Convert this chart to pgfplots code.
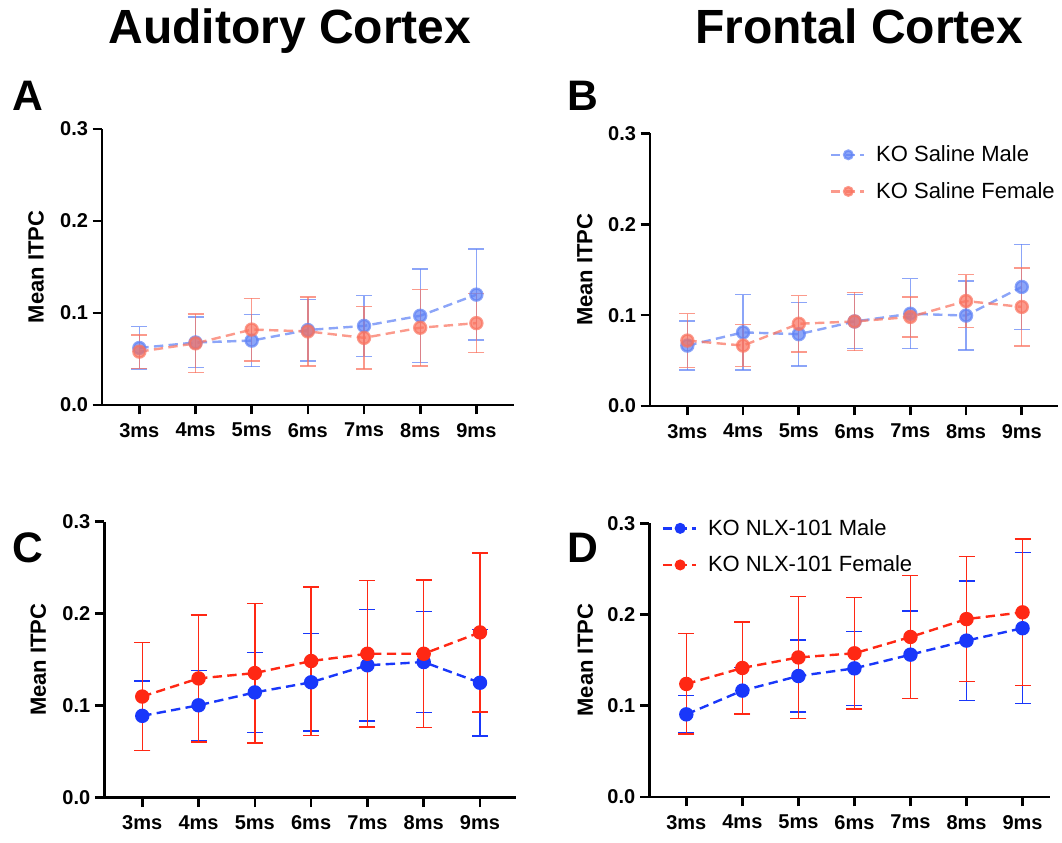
\documentclass[border=0pt]{standalone}
\usepackage{pgfplots}
\pgfplotsset{compat=1.18}
\usepackage{fontspec}
\setmainfont{Liberation Sans}

\definecolor{lblue}{RGB}{95,130,245}
\definecolor{lred}{RGB}{250,115,95}
\definecolor{dblue}{RGB}{25,55,250}
\definecolor{dred}{RGB}{255,40,20}

\pgfplotsset{
  panel/.style={
    scale only axis, clip=false,
    axis lines=left,
    x axis line style={-}, y axis line style={-},
    axis line style={line width=2.2pt, black},
    ymin=0, ymax=0.3, ytick={0,0.1,0.2,0.3},
    yticklabel style={/pgf/number format/fixed, /pgf/number format/fixed zerofill, /pgf/number format/precision=1},
    /pgf/number format/assume math mode=true,
    xtick={0,...,6}, xticklabels={3ms,4ms,5ms,6ms,7ms,8ms,9ms},
    xticklabel style={yshift=-3pt},
    tick align=outside, major tick length=7pt,
    major tick style={line width=2pt, black},
    tick label style={font=\bfseries\fontsize{15}{17}\selectfont},
    ylabel={Mean ITPC},
    ylabel style={font=\bfseries\fontsize{16.5}{18}\selectfont,
      at={(axis description cs:-0.16,0.5)}, anchor=center},
    legend style={draw=none, fill=none, font=\fontsize{16.5}{18}\selectfont,
      row sep=10pt, anchor=north west, inner sep=0pt,
      nodes={inner xsep=8pt}},
    legend cell align=left,
    legend image code/.code={\draw[mark repeat=2, mark phase=2, mark size=3.2pt, #1]
      plot coordinates {(0pt,0pt) (13pt,0pt) (25pt,0pt)};},
  },
  ser/.style={color=#1, dashed, dash pattern=on 7pt off 4pt, line width=1.8pt,
    mark=*, mark size=4.5pt, mark options={solid, fill=#1},
    error bars/y dir=both, error bars/y explicit,
    error bars/error bar style={solid, line width=1pt},
    error bars/error mark options={solid, rotate=90, mark size=6pt, line width=1pt}},
  lser/.style={opacity=0.72, ser=#1},
}

\begin{document}
\begin{tikzpicture}
\useasboundingbox (0,0) rectangle (796.5pt,-631.5pt);

\node[anchor=base, font=\bfseries\fontsize{36}{40}\selectfont] at (217.5pt,-32.5pt) {Auditory Cortex};
\node[anchor=base, font=\bfseries\fontsize{36}{40}\selectfont] at (644.3pt,-32.5pt) {Frontal Cortex};
\node[anchor=base, font=\bfseries\fontsize{32}{36}\selectfont] at (21pt,-82.5pt) {A};
\node[anchor=base, font=\bfseries\fontsize{32}{36}\selectfont] at (437pt,-82.5pt) {B};
\node[anchor=base, font=\bfseries\fontsize{32}{36}\selectfont] at (21pt,-422pt) {C};
\node[anchor=base, font=\bfseries\fontsize{32}{36}\selectfont] at (437pt,-422pt) {D};

% A: auditory, saline
\begin{axis}[panel, at={(76.5pt,-303.75pt)}, anchor=south west,
  width=309pt, height=207pt, xmin=-0.665, xmax=6.67]
\addplot[lser=lblue] coordinates {
  (0,0.062) +- (0,0.023)
  (1,0.068) +- (0,0.0275)
  (2,0.070) +- (0,0.0285)
  (3,0.0815) +- (0,0.0335)
  (4,0.086) +- (0,0.033)
  (5,0.097) +- (0,0.051)
  (6,0.120) +- (0,0.0495)
};
\addplot[lser=lred] coordinates {
  (0,0.058) +- (0,0.018)
  (1,0.067) +- (0,0.032)
  (2,0.082) +- (0,0.034)
  (3,0.080) +- (0,0.0375)
  (4,0.073) +- (0,0.034)
  (5,0.084) +- (0,0.0415)
  (6,0.089) +- (0,0.032)
};
\end{axis}

% B: frontal, saline
\begin{axis}[panel, at={(487.5pt,-304.5pt)}, anchor=south west,
  width=306pt, height=204.5pt, xmin=-0.67, xmax=6.65,
  legend style={at={(axis description cs:0.44,0.965)}}]
\addplot[lser=lblue] coordinates {
  (0,0.0665) +- (0,0.027)
  (1,0.081) +- (0,0.0415)
  (2,0.079) +- (0,0.035)
  (3,0.093) +- (0,0.030)
  (4,0.1015) +- (0,0.0385)
  (5,0.0995) +- (0,0.038)
  (6,0.131) +- (0,0.047)
};
\addlegendentry{KO Saline Male}
\addplot[lser=lred] coordinates {
  (0,0.072) +- (0,0.0295)
  (1,0.0665) +- (0,0.023)
  (2,0.0905) +- (0,0.031)
  (3,0.093) +- (0,0.032)
  (4,0.098) +- (0,0.022)
  (5,0.1155) +- (0,0.029)
  (6,0.109) +- (0,0.043)
};
\addlegendentry{KO Saline Female}
\end{axis}

% C: auditory, NLX-101
\begin{axis}[panel, at={(78.2pt,-598.3pt)}, anchor=south west,
  width=308.8pt, height=207pt, xmin=-0.675, xmax=6.64]
\addplot[ser=dblue] coordinates {
  (0,0.089) +- (0,0.038)
  (1,0.1005) +- (0,0.038)
  (2,0.1145) +- (0,0.0435)
  (3,0.1255) +- (0,0.053)
  (4,0.144) +- (0,0.0605)
  (5,0.1475) +- (0,0.0547)
  (6,0.125) +- (0,0.058)
};
\addplot[ser=dred] coordinates {
  (0,0.110) +- (0,0.0585)
  (1,0.1297) +- (0,0.069)
  (2,0.1355) +- (0,0.076)
  (3,0.1486) +- (0,0.0806)
  (4,0.1565) +- (0,0.0797)
  (5,0.1565) +- (0,0.080)
  (6,0.1797) +- (0,0.0864)
};
\end{axis}

% D: frontal, NLX-101
\begin{axis}[panel, at={(487pt,-597.75pt)}, anchor=south west,
  width=300.5pt, height=205.3pt, xmin=-0.66, xmax=6.49,
  legend style={at={(axis description cs:0.03,1.025)}}]
\addplot[ser=dblue] coordinates {
  (0,0.0906) +- (0,0.0205)
  (1,0.1166) +- (0,0.025)
  (2,0.1326) +- (0,0.0396)
  (3,0.141) +- (0,0.0404)
  (4,0.156) +- (0,0.048)
  (5,0.1714) +- (0,0.0655)
  (6,0.185) +- (0,0.0828)
};
\addlegendentry{KO NLX-101 Male}
\addplot[ser=dred] coordinates {
  (0,0.1239) +- (0,0.055)
  (1,0.1414) +- (0,0.0505)
  (2,0.153) +- (0,0.067)
  (3,0.1575) +- (0,0.061)
  (4,0.1754) +- (0,0.0675)
  (5,0.195) +- (0,0.0687)
  (6,0.2024) +- (0,0.0805)
};
\addlegendentry{KO NLX-101 Female}
\end{axis}
\end{tikzpicture}
\end{document}
